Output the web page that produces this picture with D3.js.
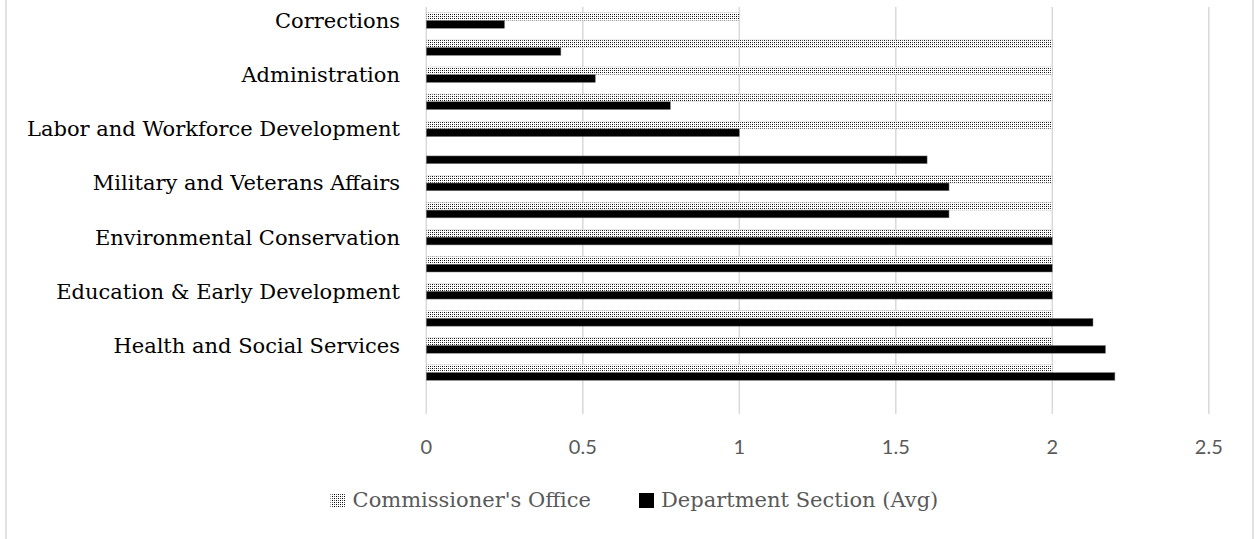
<!DOCTYPE html>
<html lang="en">
<head>
    <meta charset="UTF-8">
    <title>Commissioner's Office vs Department Section</title>
    <script src="https://d3js.org/d3.v7.min.js"></script>
    <style>
        body { margin: 0; background: #fff; }
        .cat-label { font-family: "DejaVu Serif", serif; font-size: 21px; fill: #000; }
        .tick-label { font-family: Lato, "Open Sans", sans-serif; font-size: 20px; fill: #595959; }
        .legend { font-family: "DejaVu Serif", serif; font-size: 21px; fill: #595959; }
    </style>
</head>
<body>
    <div id="chart"></div>

    <script>
        // categories top to bottom; the axis only prints every other name, blanks are the skipped ones
        const categories = [
            "Corrections", "", "Administration", "", "Labor and Workforce Development", "",
            "Military and Veterans Affairs", "", "Environmental Conservation", "",
            "Education & Early Development", "", "Health and Social Services", "", ""
        ];
        const commissionerOffice = [1, 2, 2, 2, 2, null, 2, 2, 2, 2, 2, 2, 2, 2, null];
        const departmentSection = [0.25, 0.43, 0.54, 0.78, 1, 1.6, 1.67, 1.67, 2, 2, 2, 2.13, 2.17, 2.2, null];
        const xTicks = [0, 0.5, 1, 1.5, 2, 2.5];
        const seriesNames = ["Commissioner's Office", "Department Section (Avg)"];

        const width = 1254, height = 539;
        const svg = d3.select("#chart").append("svg").attr("width", width).attr("height", height);

        // dotted fill for the commissioner's office bars
        const pat = svg.append("defs").append("pattern")
            .attr("id", "dots").attr("patternUnits", "userSpaceOnUse")
            .attr("width", 4).attr("height", 4);
        pat.append("rect").attr("width", 4).attr("height", 4).attr("fill", "#fff");
        [[0, 0, "#000"], [2, 2, "#000"], [2, 0, "#555"], [0, 2, "#555"]].forEach(p => {
            pat.append("rect").attr("x", p[0]).attr("y", p[1]).attr("width", 1).attr("height", 1).attr("fill", p[2]);
        });

        // chart frame
        svg.append("rect").attr("x", 6).attr("y", -2).attr("width", 1247).attr("height", 545)
            .attr("fill", "none").attr("stroke", "#d9d9d9").attr("stroke-width", 1.5);

        const x = d3.scaleLinear().domain([0, 2.5]).range([426.3, 1208.8]);
        const y = d3.scaleBand().domain(d3.range(categories.length)).range([7, 413.2]);
        const barH = y.bandwidth() / 3.5;
        const off = (y.bandwidth() - 2 * barH) / 2;

        // gridlines
        svg.append("g").selectAll("line")
            .data(xTicks)
            .enter().append("line")
            .attr("x1", d => x(d)).attr("x2", d => x(d))
            .attr("y1", 7).attr("y2", 414)
            .attr("stroke", "#d9d9d9").attr("stroke-width", 1.5);

        // x tick labels
        svg.append("g").selectAll("text")
            .data(xTicks)
            .enter().append("text")
            .attr("class", "tick-label")
            .attr("x", d => x(d)).attr("y", 454)
            .attr("text-anchor", "middle")
            .text(d => d);

        // category labels
        svg.append("g").selectAll("text")
            .data(categories)
            .enter().append("text")
            .attr("class", "cat-label")
            .attr("x", 400)
            .attr("y", (d, i) => y(i) + y.bandwidth() / 2)
            .attr("dy", "0.35em")
            .attr("text-anchor", "end")
            .text(d => d);

        // bars
        svg.append("g").selectAll("rect")
            .data(commissionerOffice.map((v, i) => ({ v, i })).filter(d => d.v != null))
            .enter().append("rect")
            .attr("x", x(0))
            .attr("y", d => y(d.i) + off)
            .attr("width", d => x(d.v) - x(0))
            .attr("height", barH)
            .attr("fill", "url(#dots)")
            .attr("stroke", "#d0d0d0").attr("stroke-width", 0.5);

        svg.append("g").selectAll("rect")
            .data(departmentSection.map((v, i) => ({ v, i })).filter(d => d.v != null))
            .enter().append("rect")
            .attr("x", x(0))
            .attr("y", d => y(d.i) + off + barH)
            .attr("width", d => x(d.v) - x(0))
            .attr("height", barH)
            .attr("fill", "#000")
            .attr("stroke", "#7f7f7f").attr("stroke-width", 0.5);

        // legend
        const leg = svg.append("g").attr("class", "legend");
        const t1 = leg.append("text").attr("x", 591).attr("y", 507).attr("text-anchor", "end").text(seriesNames[0]);
        const t1w = t1.node().getComputedTextLength();
        leg.append("rect").attr("x", 591 - t1w - 22).attr("y", 493).attr("width", 15).attr("height", 15).attr("fill", "url(#dots)");
        leg.append("rect").attr("x", 639).attr("y", 493).attr("width", 15).attr("height", 15).attr("fill", "#000");
        leg.append("text").attr("x", 661).attr("y", 507).text(seriesNames[1]);
    </script>
</body>
</html>
